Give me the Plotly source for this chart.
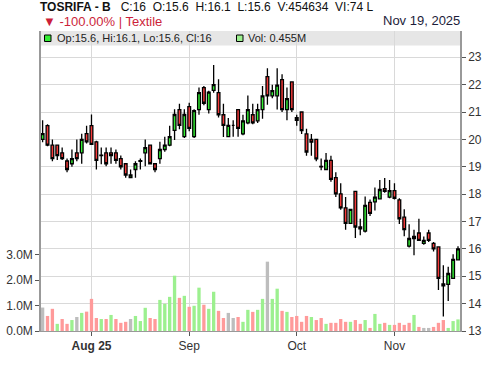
import plotly.graph_objects as go

# ---- data ----
opens = [20.0, 20.5, 19.79, 19.79, 19.51, 19.21, 19.11, 19.51, 19.51, 20.21,
         20.5, 19.91, 19.42, 19.51, 19.51, 19.51, 19.30, 19.11, 18.6, 18.9,
         19.2, 19.51, 19.79, 19.11, 19.3, 19.63, 19.79, 20.33, 21.09, 20.1,
         21.2, 20.1, 21.09, 21.89, 21.09, 21.79, 21.71, 20.9, 20.1, 20.51,
         21.09, 20.2, 20.6, 20.9, 20.68, 21.09, 22.29, 21.59, 21.59, 22.18,
         21.09, 22.1, 20.79, 21.0, 20.2, 20.0, 20.0, 19.01, 18.9, 19.23,
         18.6, 18.01, 17.5, 16.93, 18.1, 16.8, 16.65, 17.7, 17.72, 17.83,
         18.2, 17.89, 18.13, 17.79, 17.16, 16.1, 16.38, 16.58, 16.2, 16.58,
         16.2, 16.07, 14.65, 14.7, 14.92, 15.6]
highs = [20.7, 20.55, 20.0, 19.8, 19.7, 19.3, 19.63, 20.0, 20.21, 20.5,
         20.91, 19.95, 19.7, 19.7, 19.7, 19.63, 19.41, 19.11, 18.9, 19.2,
         19.3, 20.0, 19.8, 19.11, 19.91, 20.1, 20.5, 21.1, 21.3, 21.1,
         21.34, 21.1, 21.9, 21.95, 21.78, 22.72, 22.2, 21.3, 20.78, 20.7,
         21.09, 20.9, 21.6, 21.3, 21.3, 21.95, 22.6, 22.0, 22.6, 22.38,
         21.9, 22.1, 20.9, 21.02, 20.39, 20.2, 20.0, 19.3, 19.5, 19.4,
         18.8, 18.4, 17.9, 17.44, 18.1, 17.1, 17.91, 17.8, 18.24, 18.52,
         18.59, 18.52, 18.4, 17.85, 17.45, 16.9, 16.7, 17.1, 16.45, 16.7,
         16.25, 16.1, 15.4, 15.35, 15.8, 16.1]
lows = [19.9, 19.75, 19.2, 19.25, 19.25, 18.8, 19.0, 19.2, 19.11, 19.85,
        19.8, 18.9, 19.09, 19.02, 19.11, 19.11, 18.9, 18.6, 18.6, 18.6,
        18.9, 19.02, 19.1, 18.8, 19.11, 19.55, 19.75, 19.98, 20.37, 20.05,
        20.3, 20.05, 20.9, 21.25, 20.95, 21.7, 20.8, 20.09, 20.09, 20.1,
        20.1, 20.15, 20.55, 20.55, 20.6, 20.75, 21.27, 21.5, 21.09, 21.0,
        20.7, 21.0, 20.5, 20.2, 19.4, 19.4, 19.2, 18.87, 18.9, 18.45,
        17.9, 17.43, 16.7, 16.93, 16.4, 16.5, 16.6, 17.2, 17.4, 17.8,
        18.05, 17.85, 17.8, 16.91, 16.46, 16.05, 15.77, 16.3, 16.15, 16.25,
        15.9, 14.5, 13.53, 14.1, 14.9, 15.6]
closes = [20.21, 19.79, 19.30, 19.41, 19.30, 18.90, 19.30, 19.30, 20.0, 19.91,
          19.82, 19.23, 19.41, 19.11, 19.41, 19.23, 19.0, 18.70, 18.70, 19.11,
          19.22, 19.7, 19.11, 18.9, 19.63, 19.79, 20.1, 20.91, 20.51, 20.91,
          20.4, 21.05, 21.71, 21.32, 21.73, 22.0, 20.9, 20.51, 20.51, 20.51,
          20.4, 20.68, 21.09, 20.6, 21.09, 21.59, 21.59, 21.78, 21.98, 21.09,
          21.49, 21.09, 20.7, 20.32, 19.54, 19.9, 19.29, 19.0, 19.23, 18.54,
          18.01, 17.5, 16.93, 17.44, 16.8, 16.73, 17.59, 17.3, 17.89, 18.17,
          18.1, 18.13, 17.85, 17.1, 16.7, 16.38, 16.46, 16.31, 16.31, 16.31,
          16.0, 14.92, 14.72, 15.1, 15.62, 16.0]
volumes_m = [0.92, 0.59, 0.87, 0.28, 0.47, 0.28, 0.43, 0.55, 0.71, 0.76,
             1.26, 0.51, 0.47, 0.47, 0.63, 0.47, 0.32, 0.36, 0.47, 0.59,
             0.39, 0.91, 0.51, 0.47, 1.22, 1.07, 1.34, 2.17, 1.30, 1.38,
             0.95, 0.99, 1.70, 1.03, 0.87, 1.54, 0.79, 0.51, 0.71, 0.51,
             0.55, 0.36, 0.83, 0.75, 0.83, 1.26, 2.72, 1.26, 1.66, 0.79,
             0.75, 0.55, 0.59, 0.36, 0.59, 0.55, 0.43, 0.51, 0.28, 0.32,
             0.32, 0.47, 0.36, 0.36, 0.43, 0.28, 0.43, 0.12, 0.67, 0.28,
             0.32, 0.24, 0.24, 0.32, 0.24, 0.32, 0.63, 0.16, 0.12, 0.12,
             0.16, 0.32, 0.43, 0.12, 0.39, 0.455]
month_tick_index = [10, 30, 52, 72]
month_tick_labels = ["<b>Aug 25</b>", "Sep", "Oct", "Nov"]
price_ticks = [13, 14, 15, 16, 17, 18, 19, 20, 21, 22, 23]
vol_ticks_m = [0, 1, 2, 3]
vol_tick_labels = ["0.0M", "1.0M", "2.0M", "3.0M"]

header_name = "TOSRIFA - B"
header_stats = "C:16\u00a0\u00a0O:15.6\u00a0\u00a0H:16.1\u00a0\u00a0L:15.6\u00a0\u00a0V:454634\u00a0\u00a0VI:74 L"
header_change = "\u25bc -100.00% | Textile"
header_date = "Nov 19, 2025"
legend_ohlc = "Op:15.6, Hi:16.1, Lo:15.6, Cl:16"
legend_vol = "Vol: 0.455M"

# ---- derived ----
n = len(closes)
xs = list(range(n))
vols = [v * 1e6 for v in volumes_m]
GREEN = "#33ee33"
RED = "#f63a3a"
VGREEN = "#9cf08f"
VRED = "#ff9a9a"
VGRAY = "#bdbdbd"
vcolors = []
for i in range(n):
    if i == 0 or abs(closes[i] - closes[i - 1]) < 1e-9:
        vcolors.append(VGRAY)
    elif closes[i] > closes[i - 1]:
        vcolors.append(VGREEN)
    else:
        vcolors.append(VRED)

FONT = "Liberation Sans, Arial, sans-serif"
fig = go.Figure()
fig.add_trace(go.Candlestick(
    x=xs, open=opens, high=highs, low=lows, close=closes,
    increasing=dict(fillcolor=GREEN, line=dict(color="black", width=1.3)),
    decreasing=dict(fillcolor=RED, line=dict(color="black", width=1.3)),
    whiskerwidth=0, yaxis="y", showlegend=False, hoverinfo="skip",
))
fig.add_trace(go.Bar(
    x=xs, y=vols, marker=dict(color=vcolors, line=dict(width=0)),
    width=0.68, yaxis="y2", showlegend=False, hoverinfo="skip",
))

L, R, T, B = 41, 460, 31, 331
W, H = 500, 366


def px(xp):
    return (xp - L) / (R - L)


def py(yp):
    return (B - yp) / (B - T)


fig.update_layout(
    template="none",
    width=W, height=H,
    margin=dict(l=L, r=W - R, t=T, b=H - B, pad=0, autoexpand=False),
    paper_bgcolor="white", plot_bgcolor="white",
    font=dict(family=FONT, size=12, color="#333"),
    boxgap=0.2,
    xaxis=dict(
        range=[-0.33, 85.41], tickmode="array", tickvals=month_tick_index,
        ticktext=month_tick_labels, showgrid=True, gridcolor="#d9d9d9", gridwidth=1,
        ticks="outside", ticklen=4, tickcolor="#555", showline=True,
        linecolor="#999", linewidth=1, zeroline=False, automargin=False,
        rangeslider=dict(visible=False), tickfont=dict(size=12, color="#333"),
    ),
    yaxis=dict(
        side="right", range=[13, 23.96], tickmode="array", tickvals=price_ticks,
        showgrid=True, gridcolor="#d9d9d9", gridwidth=1, ticks="outside",
        ticklen=4, tickcolor="#555", showline=True, linecolor="#999",
        linewidth=1.5, zeroline=False, automargin=False,
        tickfont=dict(size=12, color="#333"),
    ),
    yaxis2=dict(
        overlaying="y", side="left", range=[0, 11.77e6], tickmode="array",
        tickvals=[v * 1e6 for v in vol_ticks_m], ticktext=vol_tick_labels,
        showgrid=False, ticks="outside", ticklen=4, tickcolor="#555",
        showline=True, linecolor="#999", linewidth=1.5, zeroline=False,
        automargin=False, tickfont=dict(size=12, color="#333"),
    ),
    showlegend=False,
)

shapes = [
    dict(type="rect", xref="paper", yref="paper", x0=0, x1=1,
         y0=py(45.5), y1=py(31), fillcolor="#e6e6e6", line=dict(width=0), layer="below"),
    dict(type="rect", xref="paper", yref="paper", x0=px(44.5), x1=px(51),
         y0=py(41.5), y1=py(35), fillcolor=GREEN, line=dict(color="black", width=1)),
    dict(type="rect", xref="paper", yref="paper", x0=px(236.5), x1=px(243),
         y0=py(41.5), y1=py(35), fillcolor=VGREEN, line=dict(color="black", width=1)),
]
fig.update_layout(shapes=shapes)

ann = [
    dict(text="<b>" + header_name + "</b>\u00a0\u00a0\u00a0" + header_stats,
         x=px(39), y=py(7.5), xanchor="left", yanchor="middle",
         font=dict(size=12, color="#111")),
    dict(text=header_change, x=px(42), y=py(21.5), xanchor="left", yanchor="middle",
         font=dict(size=13, color="#cc1f3a")),
    dict(text=header_date, x=px(461), y=py(21), xanchor="right", yanchor="middle",
         font=dict(size=13, color="#1c1c3a")),
    dict(text=legend_ohlc, x=px(56), y=py(38.3), xanchor="left", yanchor="middle",
         font=dict(size=11, color="#222")),
    dict(text=legend_vol, x=px(246.5), y=py(38.3), xanchor="left", yanchor="middle",
         font=dict(size=11, color="#222")),
]
for a in ann:
    a.update(xref="paper", yref="paper", showarrow=False, borderpad=0)
fig.update_layout(annotations=ann)

fig.write_html("out.html")
